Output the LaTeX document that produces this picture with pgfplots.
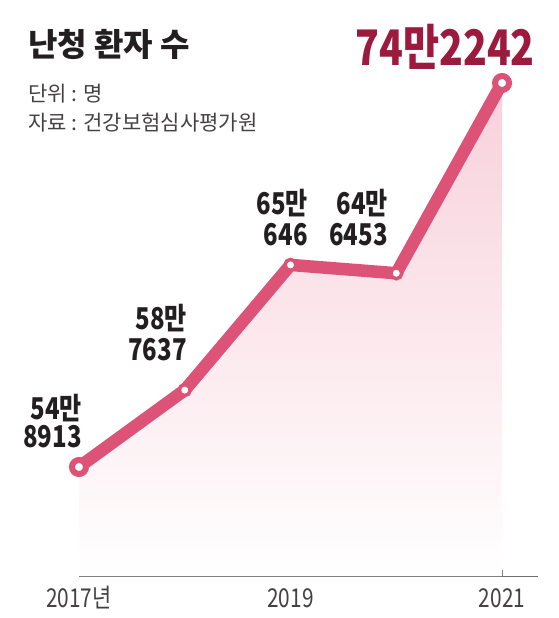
\documentclass[border=0pt]{standalone}
\usepackage{fontspec}
\usepackage{pgfplots}
\pgfplotsset{compat=1.18}
\setmainfont{Noto Sans CJK KR}
\newfontfamily\numfont[FakeStretch=0.8]{Noto Sans CJK KR}

\definecolor{linepink}{HTML}{DD5378}
\definecolor{fillpink}{HTML}{F8D0DB}
\definecolor{numred}{HTML}{9C1A3E}
\definecolor{titlecol}{HTML}{231F20}
\definecolor{axisgray}{HTML}{6E6E6E}

\begin{document}
\begin{tikzpicture}[x=1pt,y=1pt]
\useasboundingbox (0,0) rectangle (559,618);

\begin{axis}[
    at={(79pt,42pt)}, anchor=south west,
    scale only axis,
    width=459pt, height=556pt,
    xmin=2017, xmax=2021.34,
    ymin=494036, ymax=773960,
    axis x line*=bottom,
    axis y line=none,
    clip=false,
    x axis line style={axisgray, line width=1pt},
    xtick={2017,2018,2019,2020,2021},
    xticklabels={2017년,,2019,,2021},
    tick align=inside,
    major tick length=6pt,
    tick style={axisgray, line width=1pt},
    xticklabel style={font=\numfont\fontsize{26}{26}\selectfont,
                      text=titlecol!85, anchor=base, yshift=-31pt},
]
% shaded area under the line
\addplot[draw=none, top color=fillpink, bottom color=white] coordinates {
    (2017,548913) (2018,587637) (2019,650646) (2020,646453) (2021,742242)
} \closedcycle;

% main line
\addplot[linepink, line width=12.5pt, line join=round, line cap=round] coordinates {
    (2017,548913) (2018,587637) (2019,650646) (2020,646453) (2021,742242)
};

% middle points
\addplot[only marks, mark=*, mark size=5.5pt,
         mark options={draw=linepink, fill=white, line width=3.5pt}] coordinates {
    (2018,587637) (2019,650646) (2020,646453)
};

% end points
\addplot[only marks, mark=*, mark size=7pt,
         mark options={draw=linepink, fill=white, line width=6pt}] coordinates {
    (2017,548913) (2021,742242)
};
\end{axis}

% titles
\node[anchor=base west, inner sep=0, text=titlecol,
      font=\bfseries\fontsize{32}{32}\selectfont] at (28,561) {난청 환자 수};
\node[anchor=base west, inner sep=0, text=titlecol!85,
      font=\fontsize{21}{21}\selectfont] at (28,516) {단위 : 명};
\node[anchor=base west, inner sep=0, text=titlecol!85,
      font=\fontsize{21}{21}\selectfont] at (28,487) {자료 : 건강보험심사평가원};
\node[anchor=base east, inner sep=0, text=numred,
      font=\numfont\bfseries\fontsize{49}{49}\selectfont] at (535,552) {74만2242};

% value labels
\tikzset{vlab/.style={anchor=base east, inner sep=0, text=titlecol,
                      font=\numfont\bfseries\fontsize{30}{30}\selectfont}}
\node[vlab] at (82,198) {54만};
\node[vlab] at (82,170) {8913};
\node[vlab] at (187,288) {58만};
\node[vlab] at (187,257) {7637};
\node[vlab] at (308,403) {65만};
\node[vlab] at (308,372) {646};
\node[vlab] at (388,403) {64만};
\node[vlab] at (388,372) {6453};
\end{tikzpicture}
\end{document}
